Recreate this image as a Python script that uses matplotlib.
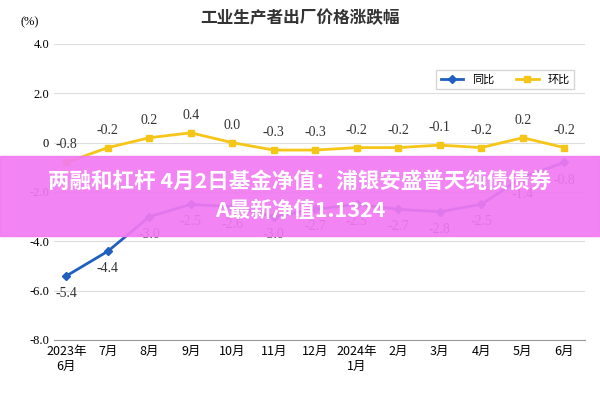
import matplotlib.pyplot as plt
from matplotlib.patches import Rectangle

plt.rcParams['font.family'] = ['Noto Sans CJK SC', 'DejaVu Sans']

months = ["2023年\n6月", "7月", "8月", "9月", "10月", "11月", "12月", "2024年\n1月",
          "2月", "3月", "4月", "5月", "6月"]
yoy = [-5.4, -4.4, -3.0, -2.5, -2.6, -3.0, -2.7, -2.5, -2.7, -2.8, -2.5, -1.4, -0.8]
mom = [-0.8, -0.2, 0.2, 0.4, 0.0, -0.3, -0.3, -0.2, -0.2, -0.1, -0.2, 0.2, -0.2]

fig = plt.figure(figsize=(6, 4), dpi=100)
ax = fig.add_axes([0.09, 0.15, 0.885, 0.74])
x = range(len(months))
ax.plot(x, yoy, color="#1f5fbf", lw=2, marker="D", ms=4, label="同比")
ax.plot(x, mom, color="#f5c518", lw=2, marker="s", ms=4, label="环比")
for i in x:
    ax.text(i, mom[i] + 0.45, f"{mom[i]:.1f}", ha="center", va="bottom",
            fontsize=10, family="Liberation Serif", color="#333333")
    ax.text(i, yoy[i] - 0.45, f"{yoy[i]:.1f}", ha="center", va="top",
            fontsize=10, family="Liberation Serif", color="#333333")
ax.set_ylim(-8, 4)
ax.set_xlim(-0.3, 12.5)
ax.set_yticks([4, 2, 0, -2, -4, -6, -8])
ax.set_yticklabels(["4.0", "2.0", "0", "-2.0", "-4.0", "-6.0", "-8.0"],
                   family="Liberation Serif", fontsize=9)
ax.set_xticks(list(x))
ax.set_xticklabels(months, fontsize=9)
ax.grid(axis="y", color="#dddddd", lw=0.8)
ax.tick_params(length=0)
for s in ["top", "right", "left"]:
    ax.spines[s].set_visible(False)
ax.spines["bottom"].set_color("#999999")
ax.legend(loc="upper right", bbox_to_anchor=(0.99, 0.93), ncol=2, fontsize=8,
          frameon=True, edgecolor="#cccccc", fancybox=False)
fig.text(0.5, 0.955, "工业生产者出厂价格涨跌幅", ha="center", va="center",
         fontsize=12, weight="bold", color="#333333")
fig.text(0.05, 0.945, "(%)", ha="center", va="center", fontsize=9,
         family="Liberation Serif")

fig.patches.append(Rectangle((0, 0.41), 1, 0.2, transform=fig.transFigure,
                             color="#f27af2", alpha=0.92, zorder=5))
fig.text(0.5, 0.51, "两融和杠杆 4月2日基金净值：浦银安盛普天纯债债券\nA最新净值1.1324",
         ha="center", va="center", fontsize=15.5, weight="bold", color="white",
         linespacing=1.45, zorder=6)

fig.savefig("out.png")
plt.close(fig)
